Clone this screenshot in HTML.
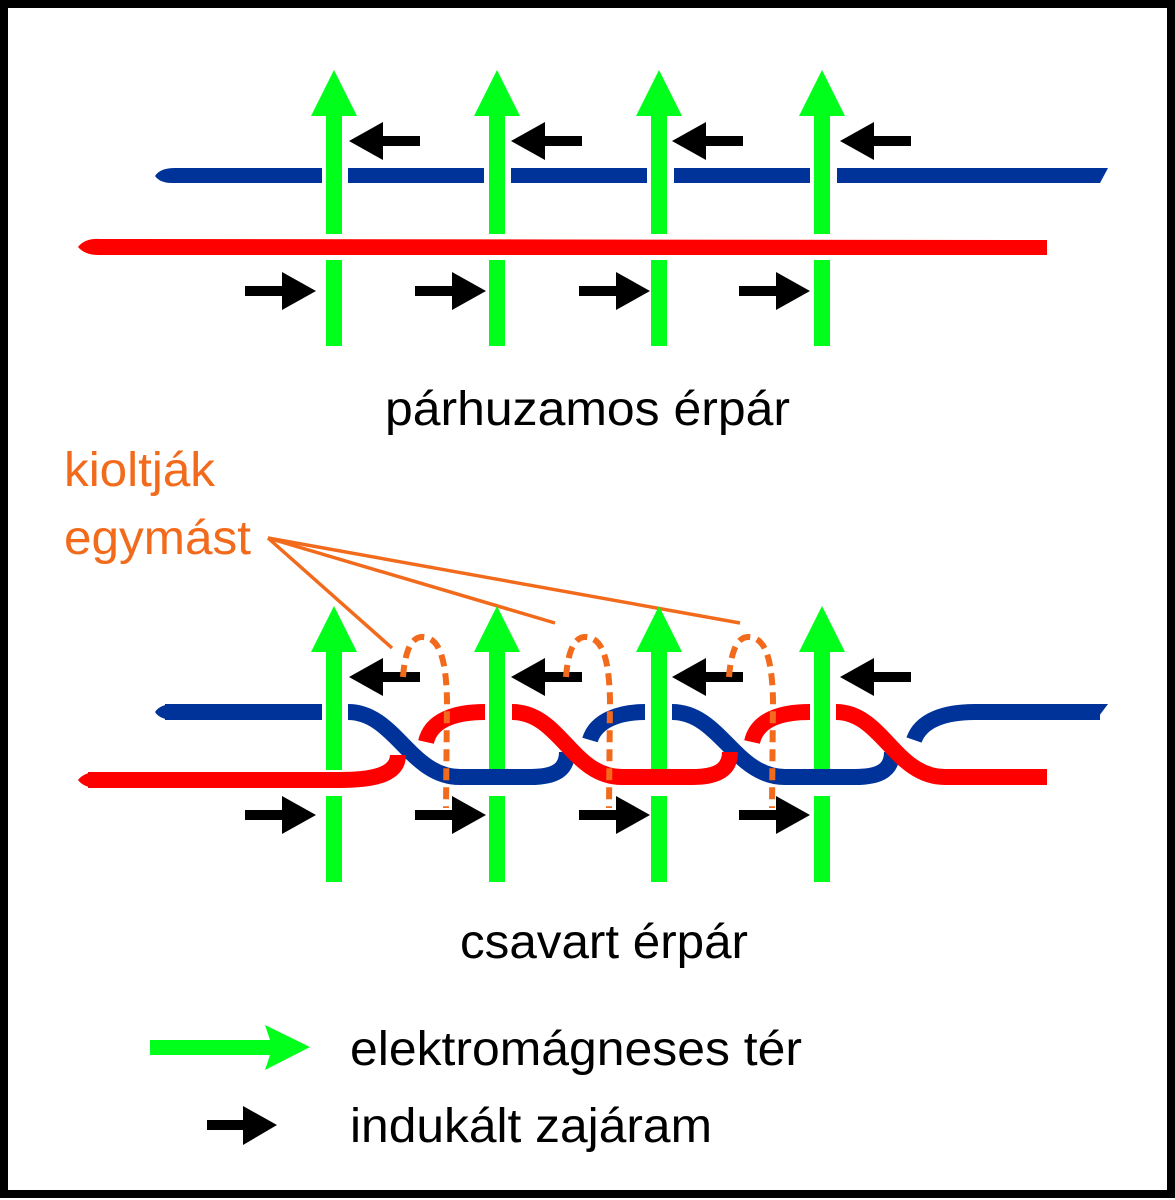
<!DOCTYPE html>
<html><head><meta charset="utf-8"><style>html,body{margin:0;padding:0;background:#fff}svg{display:block}</style></head>
<body>
<svg width="1175" height="1200" viewBox="0 0 1175 1200" xmlns="http://www.w3.org/2000/svg" font-family="Liberation Sans, sans-serif">
<rect x="4" y="4" width="1167" height="1190" fill="#fff" stroke="#000" stroke-width="8"/>
<defs>
  <g id="gup">
    <polygon points="0,-2 -23,44 -8,44 -8,162 8,162 8,44 23,44" fill="#00ff1a"/>
    <rect x="-8" y="188" width="16" height="86" fill="#00ff1a"/>
  </g>
  <g id="bl"><polygon points="0,0 34,-19 34,-5 71,-5 71,5 34,5 34,19" fill="#000"/></g>
  <g id="br"><polygon points="0,0 -34,-19 -34,-5 -71,-5 -71,5 -34,5 -34,19" fill="#000"/></g>
</defs>

<!-- TOP: parallel -->
<g transform="translate(334,72)"><use href="#gup"/></g>
<g transform="translate(497,72)"><use href="#gup"/></g>
<g transform="translate(659,72)"><use href="#gup"/></g>
<g transform="translate(822,72)"><use href="#gup"/></g>
<path d="M155 176 Q160 168 175 168 L322 168 L322 183 L172 183 Q160 183 155 176Z" fill="#003399"/>
<rect x="348" y="168" width="136" height="15" fill="#003399"/>
<rect x="511" y="168" width="136" height="15" fill="#003399"/>
<rect x="674" y="168" width="136" height="15" fill="#003399"/>
<path d="M837 168 L1108 168 L1100 183 L837 183Z" fill="#003399"/>
<path d="M78 247 Q85 238 100 239 L1047 240 L1047 255 L98 255 Q85 255 78 247Z" fill="#ff0000"/>
<g transform="translate(349,141)"><use href="#bl"/></g>
<g transform="translate(511,141)"><use href="#bl"/></g>
<g transform="translate(672,141)"><use href="#bl"/></g>
<g transform="translate(840,141)"><use href="#bl"/></g>
<g transform="translate(316,291)"><use href="#br"/></g>
<g transform="translate(486,291)"><use href="#br"/></g>
<g transform="translate(650,291)"><use href="#br"/></g>
<g transform="translate(810,291)"><use href="#br"/></g>
<text x="385" y="425" font-size="48" textLength="405" lengthAdjust="spacingAndGlyphs">párhuzamos érpár</text>

<!-- label -->
<text x="64" y="486" font-size="48" fill="#f26a1b" textLength="151" lengthAdjust="spacingAndGlyphs">kioltják</text>
<text x="64" y="554" font-size="48" fill="#f26a1b" textLength="187" lengthAdjust="spacingAndGlyphs">egymást</text>
<g stroke="#f26a1b" stroke-width="3.5" fill="none">
<line x1="268" y1="538" x2="392" y2="648"/>
<line x1="268" y1="538" x2="555" y2="623"/>
<line x1="268" y1="538" x2="740" y2="623"/>
</g>

<!-- BOTTOM: twisted -->
<g transform="translate(334,608)"><use href="#gup"/></g>
<g transform="translate(497,608)"><use href="#gup"/></g>
<g transform="translate(659,608)"><use href="#gup"/></g>
<g transform="translate(822,608)"><use href="#gup"/></g>
<g fill="none" stroke-width="16" stroke-linecap="butt">
 <path d="M165 712 H322" stroke="#003399"/>
 <path d="M348 712 C395 712 410 777 460 777 H530 C555 777 567 770 567 752" stroke="#003399"/>
 <path d="M590 740 C596 720 620 712 645 712" stroke="#003399"/>
 <path d="M672 712 C720 712 735 777 785 777 H855 C880 777 892 770 892 752" stroke="#003399"/>
 <path d="M914 740 C921 720 945 712 975 712 H1100" stroke="#003399"/>
 <path d="M88 780 H340 C380 780 398 772 398 755" stroke="#ff0000"/>
 <path d="M426 742 C431 720 455 712 485 712" stroke="#ff0000"/>
 <path d="M512 712 C560 712 572 777 622 777 H692 C717 777 730 770 730 752" stroke="#ff0000"/>
 <path d="M752 742 C757 720 780 712 810 712" stroke="#ff0000"/>
 <path d="M836 712 C882 712 895 777 945 777 H1047" stroke="#ff0000"/>
</g>
<path d="M155 712 Q160 704 175 704 L175 720 Q160 720 155 712Z" fill="#003399"/>
<path d="M1090 704 L1108 704 L1096 720 L1090 720Z" fill="#003399"/>
<path d="M78 780 Q84 772 98 772 L98 788 Q84 788 78 780Z" fill="#ff0000"/>
<g transform="translate(349,677)"><use href="#bl"/></g>
<g transform="translate(511,677)"><use href="#bl"/></g>
<g transform="translate(672,677)"><use href="#bl"/></g>
<g transform="translate(840,677)"><use href="#bl"/></g>
<g transform="translate(316,815)"><use href="#br"/></g>
<g transform="translate(486,815)"><use href="#br"/></g>
<g transform="translate(650,815)"><use href="#br"/></g>
<g transform="translate(810,815)"><use href="#br"/></g>
<g fill="none" stroke="#f26a1b" stroke-width="6" stroke-dasharray="12,7">
<path d="M403 677 C405 650 412 637 422 637 C440 637 446 660 447 700 L446 808"/>
<path d="M566 677 C568 650 575 637 585 637 C603 637 609 660 610 700 L609 808"/>
<path d="M729 677 C731 650 738 637 748 637 C766 637 772 660 773 700 L772 808"/>
</g>
<text x="460" y="958" font-size="48" textLength="288" lengthAdjust="spacingAndGlyphs">csavart érpár</text>

<!-- legend -->
<polygon points="310,1047 265,1025 270,1040 150,1040 150,1055 270,1055 265,1070" fill="#00ff1a"/>
<polygon points="277,1125 243,1106 243,1120 207,1120 207,1130 243,1130 243,1145" fill="#000"/>
<text x="350" y="1065" font-size="48" textLength="452" lengthAdjust="spacingAndGlyphs">elektromágneses tér</text>
<text x="350" y="1142" font-size="48" textLength="362" lengthAdjust="spacingAndGlyphs">indukált zajáram</text>
</svg>
</body></html>
